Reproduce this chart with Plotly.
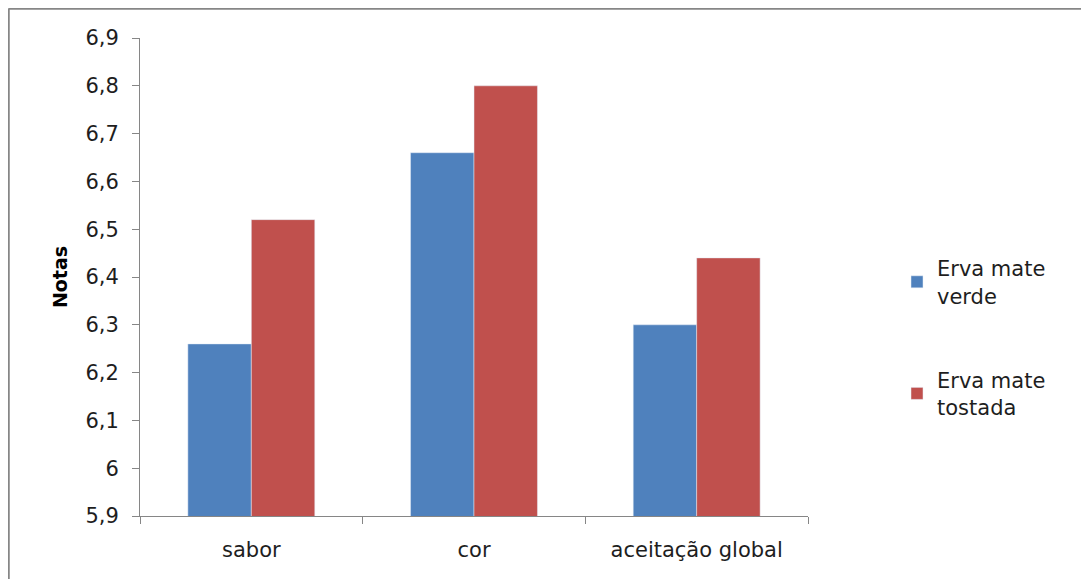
import plotly.graph_objects as go

categories = ["sabor", "cor", "aceitação global"]
verde = [6.26, 6.66, 6.30]
tostada = [6.52, 6.80, 6.44]
series_names = ["Erva mate<br>verde", "Erva mate<br>tostada"]
tick_vals = [5.9, 6.0, 6.1, 6.2, 6.3, 6.4, 6.5, 6.6, 6.7, 6.8, 6.9]
tick_text = ["5,9", "6", "6,1", "6,2", "6,3", "6,4", "6,5", "6,6", "6,7", "6,8", "6,9"]

# page body has an 8px margin, so figure coordinates = screen - 8
OFF = 8
W, H = 1089 - OFF, 579 - OFF
L, R, T, B = 140 - OFF, 808 - OFF, 38 - OFF, 516 - OFF
FONT = "DejaVu Sans, sans-serif"

fig = go.Figure()
fig.add_trace(go.Bar(x=categories, y=verde, name=series_names[0], marker_color="#4F81BD",
                     legendgroup="a"))
fig.add_trace(go.Bar(x=categories, y=tostada, name=series_names[1], marker_color="#C0504D",
                     legendgroup="b"))

pw, ph = R - L, B - T
fig.update_layout(
    width=W, height=H,
    margin=dict(l=L, r=W - R, t=T, b=H - B, pad=0),
    paper_bgcolor="white", plot_bgcolor="white",
    barmode="group", bargap=0.43, bargroupgap=0,
    font=dict(family=FONT, size=21, color="#1e1e1e"),
    legend=dict(x=(889 - L) / pw, y=1 - (330 - T) / ph, xanchor="left", yanchor="middle",
                font=dict(size=21, color="#1e1e1e"), tracegroupgap=54,
                traceorder="grouped", itemwidth=30, bgcolor="rgba(0,0,0,0)"),
    showlegend=True,
)
fig.update_yaxes(range=[5.9, 6.9], tickvals=tick_vals, ticktext=tick_text,
                 showgrid=False, zeroline=False, showline=True, linecolor="#868686", linewidth=1,
                 ticks="outside", ticklen=7, tickcolor="#868686", ticklabelstandoff=9,
                 title=dict(text="<b>Notas</b>", font=dict(size=19, color="#000000"), standoff=12))
fig.update_xaxes(showgrid=False, showline=True, linecolor="#868686", linewidth=1,
                 ticks="outside", ticklen=7, tickcolor="#868686", tickson="boundaries",
                 ticklabelstandoff=15, tickfont=dict(size=21))

# outer chart border (left and top edges visible)
bx = (0.5 - L) / pw
by = 1 + (T - 0.5) / ph
fig.add_shape(type="line", xref="paper", yref="paper", x0=bx, x1=bx, y0=-0.3, y1=by,
              line=dict(color="#868686", width=2.5))
fig.add_shape(type="line", xref="paper", yref="paper", x0=bx, x1=(W + 10 - L) / pw, y0=by, y1=by,
              line=dict(color="#868686", width=2.5))

fig.write_html("out.html")
